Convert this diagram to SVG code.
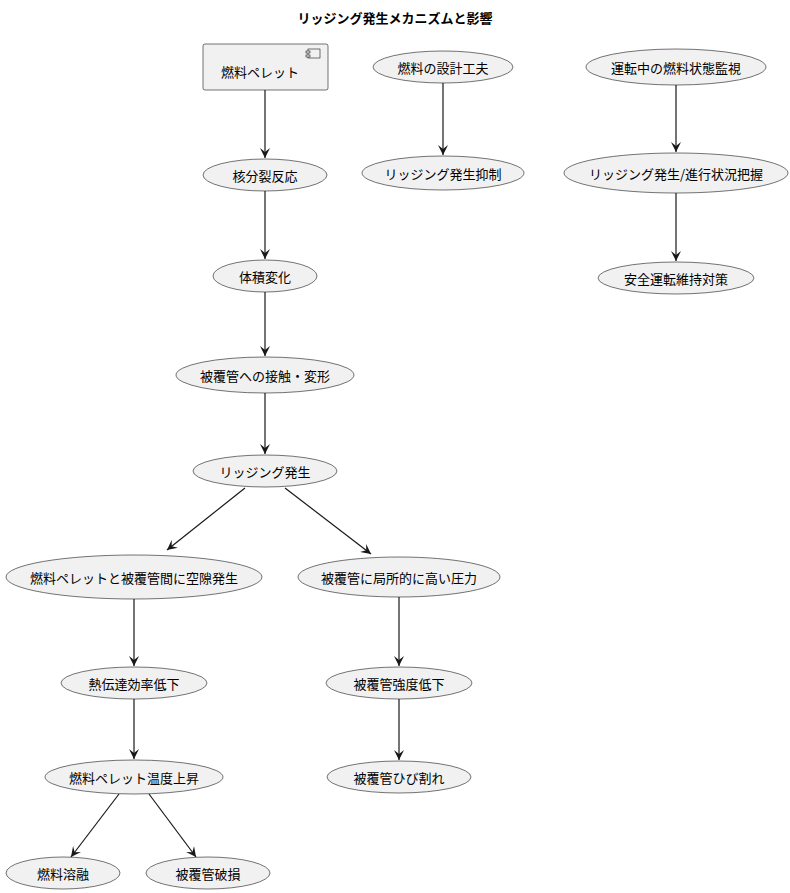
<svg xmlns="http://www.w3.org/2000/svg" width="790" height="893" viewBox="0 0 790 893">
<style>
text{font-family:"Noto Sans CJK JP","Liberation Sans",sans-serif;font-size:13px;fill:#000;text-anchor:middle;dominant-baseline:central}
.n ellipse,.n rect{fill:#f1f1f1;stroke:#181818;stroke-width:0.6}
#edges line{stroke:#181818;stroke-width:1.2;marker-end:url(#a)}
</style>
<defs><marker id="a" viewBox="0 0 10 10" refX="10" refY="5" markerWidth="10" markerHeight="10" markerUnits="userSpaceOnUse" orient="auto"><path d="M0,0 L10,5 L0,10 L4,5 Z" fill="#181818"/></marker></defs>
<rect width="790" height="893" fill="#fff"/>
<text x="395" y="17" style="font-weight:bold">リッジング発生メカニズムと影響</text>
<g id="edges">
<line x1="265" y1="90" x2="265" y2="158"/>
<line x1="265" y1="191" x2="265" y2="259"/>
<line x1="265" y1="292" x2="265" y2="356"/>
<line x1="265" y1="393" x2="265" y2="454"/>
<line x1="245" y1="488" x2="167" y2="550"/>
<line x1="285" y1="488" x2="371" y2="554"/>
<line x1="134" y1="599" x2="134" y2="666"/>
<line x1="399" y1="597" x2="399" y2="666"/>
<line x1="134" y1="699" x2="134" y2="759"/>
<line x1="399" y1="699" x2="399" y2="760"/>
<line x1="119" y1="794" x2="71" y2="857"/>
<line x1="149" y1="794" x2="196" y2="857"/>
<line x1="443" y1="83" x2="443" y2="155"/>
<line x1="676" y1="85" x2="676" y2="152"/>
<line x1="676" y1="193" x2="676" y2="261"/>
</g>
<g id="n1" class="n"><rect x="203" y="44" width="125" height="46" rx="2"/><rect x="308" y="49" width="12" height="9" style="fill:none"/><rect x="306" y="51" width="4" height="2" style="fill:#f1f1f1"/><rect x="306" y="55" width="4" height="2" style="fill:#f1f1f1"/><text x="260" y="71">燃料ペレット</text></g>
<g id="n2" class="n"><ellipse cx="265" cy="175" rx="62" ry="16"/><text x="265" y="175">核分裂反応</text></g>
<g id="n3" class="n"><ellipse cx="265" cy="276" rx="52" ry="16"/><text x="265" y="276">体積変化</text></g>
<g id="n4" class="n"><ellipse cx="265" cy="375" rx="89" ry="18"/><text x="265" y="375">被覆管への接触・変形</text></g>
<g id="n5" class="n"><ellipse cx="265" cy="471" rx="72" ry="16"/><text x="265" y="471">リッジング発生</text></g>
<g id="n6" class="n"><ellipse cx="134" cy="577" rx="128" ry="22"/><text x="134" y="577">燃料ペレットと被覆管間に空隙発生</text></g>
<g id="n7" class="n"><ellipse cx="399" cy="577" rx="101" ry="20"/><text x="399" y="577">被覆管に局所的に高い圧力</text></g>
<g id="n8" class="n"><ellipse cx="134" cy="683" rx="73" ry="16"/><text x="134" y="683">熱伝達効率低下</text></g>
<g id="n9" class="n"><ellipse cx="399" cy="683" rx="73" ry="16"/><text x="399" y="683">被覆管強度低下</text></g>
<g id="n10" class="n"><ellipse cx="134" cy="777" rx="89" ry="17"/><text x="134" y="777">燃料ペレット温度上昇</text></g>
<g id="n11" class="n"><ellipse cx="399" cy="777" rx="72" ry="16"/><text x="399" y="777">被覆管ひび割れ</text></g>
<g id="n12" class="n"><ellipse cx="63" cy="873" rx="57" ry="16"/><text x="63" y="873">燃料溶融</text></g>
<g id="n13" class="n"><ellipse cx="208" cy="873" rx="62" ry="16"/><text x="208" y="873">被覆管破損</text></g>
<g id="n14" class="n"><ellipse cx="443" cy="67" rx="70" ry="16"/><text x="443" y="67">燃料の設計工夫</text></g>
<g id="n15" class="n"><ellipse cx="443" cy="173" rx="81" ry="17"/><text x="443" y="173">リッジング発生抑制</text></g>
<g id="n16" class="n"><ellipse cx="676" cy="67" rx="90" ry="18"/><text x="676" y="67">運転中の燃料状態監視</text></g>
<g id="n17" class="n"><ellipse cx="676" cy="173" rx="112" ry="20"/><text x="676" y="173">リッジング発生/進行状況把握</text></g>
<g id="n18" class="n"><ellipse cx="676" cy="278" rx="78" ry="16"/><text x="676" y="278">安全運転維持対策</text></g>
</svg>
